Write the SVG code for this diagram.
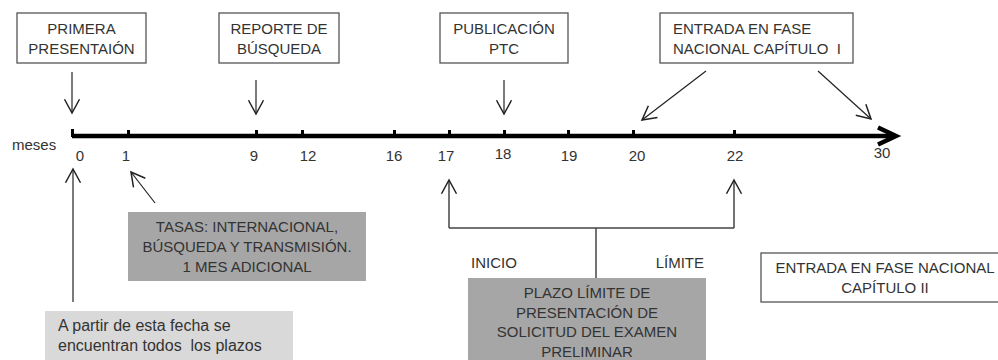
<svg xmlns="http://www.w3.org/2000/svg" width="998" height="360" viewBox="0 0 998 360">
<style>
text{font-family:"Liberation Sans",Arial,sans-serif;fill:#333;font-size:15px;white-space:pre}
.c{text-anchor:middle}
.box{fill:#fff;stroke:#555;stroke-width:1.3}
.dark{fill:#a6a6a6}
.light{fill:#d9d9d9}
.ln{stroke:#222;stroke-width:1.2;fill:none}
.num{font-size:15px}
</style>
<defs>
<marker id="ah" markerUnits="userSpaceOnUse" markerWidth="20" markerHeight="20" viewBox="-12 -8 14 16" refX="0" refY="0" orient="auto">
<path d="M-11,-6 L0,0 L-11,6" fill="none" stroke="#222" stroke-width="1.2"/>
</marker>
</defs>
<rect width="998" height="360" fill="#fff"/>
<g id="axis">
<line x1="72" y1="136" x2="893" y2="136" stroke="#000" stroke-width="4.5"/>
<path d="M878,127.5 L896,136 L878,144.5" fill="none" stroke="#000" stroke-width="4.5"/>
<g fill="#000">
<rect x="71" y="129" width="3" height="8"/>
<rect x="127" y="130" width="3" height="6"/>
<rect x="255" y="130" width="3" height="6"/>
<rect x="301" y="130" width="3" height="6"/>
<rect x="393" y="130" width="3" height="6"/>
<rect x="448" y="130" width="3" height="6"/>
<rect x="503" y="130" width="3" height="6"/>
<rect x="567" y="130" width="3" height="6"/>
<rect x="632" y="130" width="3" height="6"/>
<rect x="733" y="130" width="3" height="6"/>
</g>
<text x="12" y="150" class="num">meses</text>
<g class="num">
<text x="80" y="161" class="c num">0</text>
<text x="126" y="161" class="c num">1</text>
<text x="254" y="161" class="c num">9</text>
<text x="308" y="161" class="c num">12</text>
<text x="394" y="161" class="c num">16</text>
<text x="446" y="161" class="c num">17</text>
<text x="503" y="159" class="c num">18</text>
<text x="569" y="161" class="c num">19</text>
<text x="637" y="161" class="c num">20</text>
<text x="735" y="161" class="c num">22</text>
<text x="882" y="158" class="c num">30</text>
</g>
</g>
<g id="n-primera">
<rect class="box" x="17" y="13" width="129" height="50"/>
<text x="81.5" y="34" class="c">PRIMERA</text>
<text x="81.5" y="54" class="c">PRESENTAIÓN</text>
</g>
<g id="n-reporte">
<rect class="box" x="219" y="13" width="120" height="50"/>
<text x="279" y="34" class="c">REPORTE DE</text>
<text x="279" y="54" class="c">BÚSQUEDA</text>
</g>
<g id="n-publicacion">
<rect class="box" x="440" y="13" width="128" height="50"/>
<text x="504" y="34" class="c">PUBLICACIÓN</text>
<text x="504" y="54" class="c">PTC</text>
</g>
<g id="n-entrada1">
<rect class="box" x="660" y="13" width="193" height="50"/>
<text x="673" y="34">ENTRADA EN FASE</text>
<text x="673" y="54">NACIONAL CAPÍTULO  I</text>
</g>
<g id="n-tasas">
<rect class="dark" x="128" y="212" width="238" height="69"/>
<text x="247" y="232" class="c">TASAS: INTERNACIONAL,</text>
<text x="247" y="252" class="c">BÚSQUEDA Y TRANSMISIÓN.</text>
<text x="247" y="272" class="c">1 MES ADICIONAL</text>
</g>
<g id="n-apartir">
<rect class="light" x="45" y="311" width="248" height="55"/>
<text x="58" y="331" style="font-size:16px">A partir de esta fecha se</text>
<text x="58" y="351" style="font-size:16px">encuentran todos  los plazos</text>
</g>
<g id="n-plazo">
<rect class="dark" x="468" y="278" width="238" height="90"/>
<text x="587" y="298" class="c">PLAZO LÍMITE DE</text>
<text x="587" y="318" class="c">PRESENTACIÓN DE</text>
<text x="587" y="337" class="c">SOLICITUD DEL EXAMEN</text>
<text x="587" y="357" class="c">PRELIMINAR</text>
</g>
<g id="n-inicio"><text x="471" y="268">INICIO</text></g>
<g id="n-limite"><text x="704" y="268" style="text-anchor:end">LÍMITE</text></g>
<g id="n-entrada2">
<rect class="box" x="761" y="253" width="245" height="49"/>
<text x="885" y="273" class="c">ENTRADA EN FASE NACIONAL</text>
<text x="885" y="293" class="c">CAPÍTULO II</text>
</g>
<g id="connectors">
<line class="ln" x1="72" y1="72" x2="72" y2="113" marker-end="url(#ah)"/>
<line class="ln" x1="256" y1="80" x2="256" y2="114" marker-end="url(#ah)"/>
<line class="ln" x1="504" y1="80" x2="504" y2="114" marker-end="url(#ah)"/>
<line class="ln" x1="706" y1="71" x2="642" y2="120" marker-end="url(#ah)"/>
<line class="ln" x1="818" y1="71" x2="871" y2="119" marker-end="url(#ah)"/>
<line class="ln" x1="73" y1="302" x2="73" y2="169" marker-end="url(#ah)"/>
<line class="ln" x1="155" y1="203" x2="131" y2="172" marker-end="url(#ah)"/>
<path d="M449,228 L734,228" stroke="#444" stroke-width="1.5" fill="none"/>
<line x1="596" y1="228" x2="596" y2="278" stroke="#444" stroke-width="1.5"/>
<line class="ln" x1="449" y1="228" x2="449" y2="180" marker-end="url(#ah)" style="stroke:#444;stroke-width:1.5"/>
<line class="ln" x1="734" y1="228" x2="734" y2="180" marker-end="url(#ah)" style="stroke:#444;stroke-width:1.5"/>
</g>
</svg>
